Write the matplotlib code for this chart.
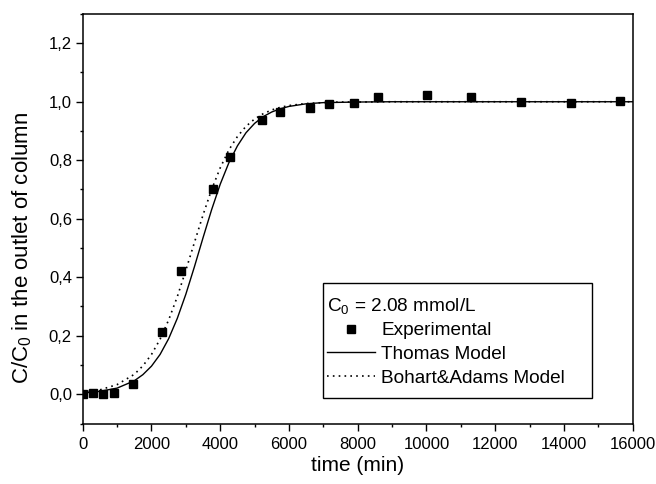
import matplotlib
matplotlib.use("Agg")
import matplotlib.pyplot as plt
from matplotlib.ticker import MultipleLocator, FuncFormatter
from matplotlib.patches import Rectangle

plt.rcParams['font.family'] = ['Liberation Sans', 'DejaVu Sans']
plt.rcParams['mathtext.default'] = 'regular'

exp_t = [0, 300, 600, 900, 1450, 2310, 2860, 3780, 4290, 5215, 5750, 6620,
         7175, 7880, 8580, 10020, 11300, 12740, 14195, 15620]
exp_c = [0.000, 0.005, 0.000, 0.004, 0.035, 0.212, 0.422, 0.703, 0.812, 0.938,
         0.966, 0.980, 0.992, 0.994, 1.015, 1.022, 1.015, 0.998, 0.997, 1.004]

# Thomas model curve
thomas_t = [0, 500, 1000, 1500, 1750, 2000, 2250, 2500, 2750, 3000, 3250, 3500,
            3750, 4000, 4250, 4500, 4750, 5000, 5250, 5500, 5750, 6000, 6500,
            7000, 7500, 8000, 9000, 10000, 12000, 14000, 16000]
thomas_c = [0.004, 0.010, 0.021, 0.046, 0.067, 0.096, 0.136, 0.190, 0.259, 0.342,
            0.436, 0.535, 0.631, 0.718, 0.791, 0.849, 0.894, 0.926, 0.949, 0.965,
            0.976, 0.984, 0.993, 0.997, 0.998, 0.999, 1.000, 1.000, 1.000, 1.000, 1.000]

# Bohart & Adams model curve
bohart_t = [0, 500, 1000, 1500, 1750, 2000, 2250, 2500, 2750, 3000, 3250, 3500,
            3750, 4000, 4250, 4500, 4750, 5000, 5250, 5500, 5750, 6000, 6500,
            7000, 7500, 8000, 9000, 10000, 12000, 14000, 16000]
bohart_c = [0.007, 0.015, 0.033, 0.068, 0.097, 0.136, 0.188, 0.254, 0.333, 0.424,
            0.519, 0.613, 0.700, 0.774, 0.835, 0.881, 0.916, 0.941, 0.959, 0.972,
            0.981, 0.987, 0.994, 0.997, 0.999, 0.999, 1.000, 1.000, 1.000, 1.000, 1.000]

legend_title = "C$_0$ = 2.08 mmol/L"
labels = ["Experimental", "Thomas Model", "Bohart&Adams Model"]

fig = plt.figure(figsize=(6.56, 4.84), dpi=100)
ax = fig.add_axes([0.1261, 0.125, 0.8384, 0.8461])

ax.plot(exp_t, exp_c, linestyle='none', marker='s', markersize=6.2,
        color='black', label=labels[0], zorder=3)
ax.plot(thomas_t, thomas_c, '-', color='black', lw=1.0, label=labels[1])
ax.plot(bohart_t, bohart_c, color='black', lw=1.2, linestyle=(0, (1, 2.5)),
        label=labels[2])

ax.set_xlim(0, 16000)
ax.set_ylim(-0.1, 1.3)
ax.xaxis.set_major_locator(MultipleLocator(2000))
ax.xaxis.set_minor_locator(MultipleLocator(1000))
ax.yaxis.set_major_locator(MultipleLocator(0.2))
ax.yaxis.set_minor_locator(MultipleLocator(0.1))
ax.yaxis.set_major_formatter(FuncFormatter(
    lambda v, p: f"{v:.1f}".replace('.', ',').replace('-0,0', '0,0')))

ax.tick_params(which='both', direction='out', top=False, right=False,
               labelsize=12, width=1.0)
ax.tick_params(which='major', length=4.8)
ax.tick_params(axis='x', which='major', pad=5)
ax.tick_params(axis='y', which='major', pad=3)
ax.tick_params(which='minor', length=2.4)
for s in ax.spines.values():
    s.set_linewidth(1.1)

ax.set_xlabel("time (min)", fontsize=15, labelpad=3)
ax.set_ylabel("C/C$_0$ in the outlet of column", fontsize=16)
ax.yaxis.set_label_coords(-0.088, 0.4286)

# legend frame (Origin style, with extra padding)
ax.add_patch(Rectangle((0.4375, 0.0623), 0.4885, 0.280, transform=ax.transAxes,
                       fill=True, facecolor='white', edgecolor='black',
                       lw=1.0, zorder=4))

leg = ax.legend(loc='center left', bbox_to_anchor=(0.4436, 0.201),
                borderaxespad=0, title=legend_title, fontsize=13.7,
                title_fontsize=13.7, alignment='left', frameon=False,
                handlelength=2.52, handletextpad=0.35, borderpad=0,
                labelspacing=0.34)
leg.set_zorder(5)

fig.savefig("out.png", dpi=100)
